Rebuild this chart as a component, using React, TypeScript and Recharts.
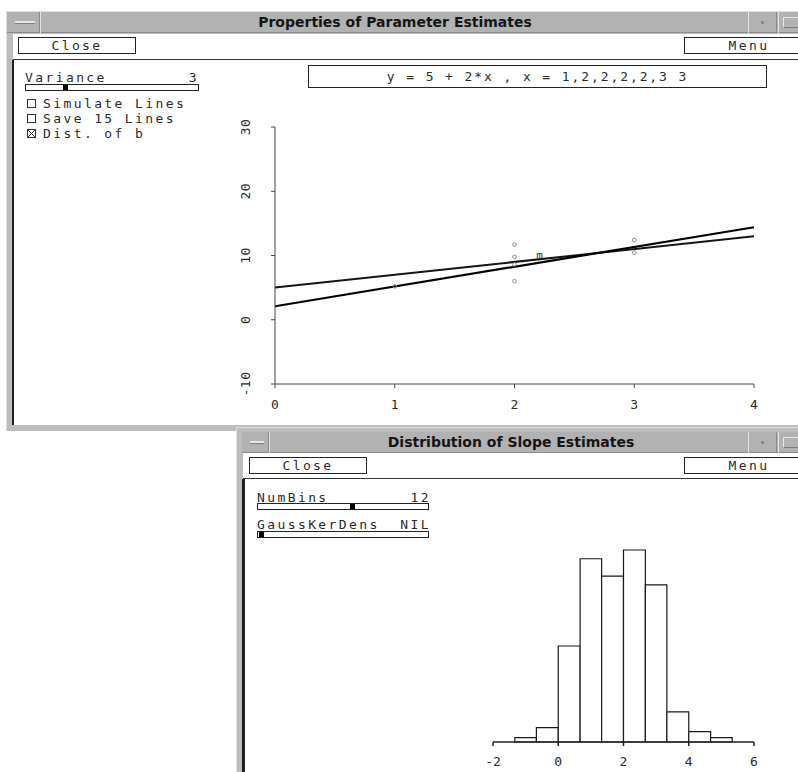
import React from "react";
import { ComposedChart, Line, Scatter, XAxis, YAxis, ReferenceArea } from "recharts";

// top window: simulated sample and two lines
const lineX = [0, 4];
const trueLineY = [5, 13];
const fitLineY = [2.1, 14.4];

const pointX = [1, 2, 2, 2, 2, 3, 3];
const pointY = [5.2, 11.7, 9.8, 6.0, 8.6, 12.4, 10.45];

const markX = [2.21];
const markY = [10];

const topXTicks = [0, 1, 2, 3, 4];
const topYTicks = [-10, 0, 10, 20, 30];

// bottom window: histogram of slope estimates
const binEdges = [-1.33, -0.67, 0, 0.67, 1.33, 2, 2.67, 3.33, 4, 4.67, 5.33];
const binCounts = [1, 3.3, 22, 42, 38, 44, 36, 6.9, 2.4, 1];
const histXTicks = [-2, 0, 2, 4, 6];

const trueLine = lineX.map((x, i) => ({ x, y: trueLineY[i] }));
const fitLine = lineX.map((x, i) => ({ x, y: fitLineY[i] }));
const points = pointX.map((x, i) => ({ x, y: pointY[i] }));
const marks = markX.map((x, i) => ({ x, y: markY[i] }));
const bins = binCounts.map((count, i) => ({ lo: binEdges[i], hi: binEdges[i + 1], x: (binEdges[i] + binEdges[i + 1]) / 2, count }));

const mono = "'DejaVu Sans Mono', monospace";
const sans = "'DejaVu Sans', sans-serif";
const ink = "#2b2b2b";
const frame = "#bdbdbd";
const titleGray = "#b2b2b2";

function abs(left: number, top: number, width: number, height: number, extra: React.CSSProperties = {}): React.CSSProperties {
  return { position: "absolute", left, top, width, height, boxSizing: "border-box", ...extra };
}

function MonoText({ left, top, children, align }: { left: number; top: number; children: React.ReactNode; align?: "right" }) {
  return (
    <div
      style={{
        position: "absolute",
        left: align === "right" ? undefined : left,
        right: align === "right" ? 798 - left : undefined,
        top,
        fontFamily: mono,
        fontSize: 13,
        letterSpacing: 2.4,
        color: ink,
        lineHeight: "15px",
        whiteSpace: "pre"
      }}
    >
      {children}
    </div>
  );
}

function Button({ left, top, width, label }: { left: number; top: number; width: number; label: string }) {
  return (
    <div
      style={abs(left, top, width, 17, {
        border: "1px solid #222",
        background: "#fff",
        fontFamily: mono,
        fontSize: 13,
        letterSpacing: 2.4,
        color: ink,
        textAlign: "center",
        lineHeight: "15px"
      })}
    >
      {label}
    </div>
  );
}

function Slider({ left, top, width, thumb }: { left: number; top: number; width: number; thumb: number }) {
  return (
    <div style={abs(left, top, width, 7, { border: "1px solid #222", background: "#fff" })}>
      <div style={abs(thumb, 0, 5, 5, { background: "#000" })} />
    </div>
  );
}

function Check({ left, top, label, checked }: { left: number; top: number; label: string; checked?: boolean }) {
  return (
    <>
      <div style={abs(left, top, 9, 9, { border: "1px solid #333", background: "#fff", overflow: "hidden" })}>
        {checked && (
          <svg width={7} height={7} style={{ display: "block" }}>
            <line x1={0} y1={0} x2={7} y2={7} stroke="#333" />
            <line x1={7} y1={0} x2={0} y2={7} stroke="#333" />
          </svg>
        )}
      </div>
      <MonoText left={left + 16} top={top - 3}>
        {label}
      </MonoText>
    </>
  );
}

function TitleBar({ left, top, width, title, menuWidth, center }: { left: number; top: number; width: number; title: string; menuWidth: number; center: number }) {
  return (
    <>
      <div style={abs(left, top, width, 21, { background: titleGray, borderBottom: "1px solid #8a8a8a" })} />
      <div style={abs(left, top, menuWidth, 21, { borderRight: "1px solid #e4e4e4", boxShadow: "inset -1px 0 0 #8a8a8a" })}>
        <div style={abs(8, 9, menuWidth - 14, 3, { background: "#e6e6e6", borderBottom: "1px solid #808080" })} />
      </div>
      <div
        style={{
          position: "absolute",
          left: center - 200,
          width: 400,
          top: top + 2,
          textAlign: "center",
          fontFamily: sans,
          fontWeight: "bold",
          fontSize: 14,
          color: "#151515",
          lineHeight: "17px"
        }}
      >
        {title}
      </div>
      <div style={abs(748, top, 29, 21, { borderLeft: "1px solid #e4e4e4", borderRight: "1px solid #8a8a8a" })}>
        <div style={abs(12, 9, 3, 3, { background: "#8a8a8a" })} />
      </div>
      <div style={abs(778, top, 30, 21, { borderLeft: "1px solid #e4e4e4" })}>
        <div style={abs(4, 5, 22, 11, { border: "1px solid #7a7a7a", borderTopColor: "#e8e8e8", borderLeftColor: "#e8e8e8" })} />
      </div>
    </>
  );
}

function YTick(props: any) {
  const { x, y, payload } = props;
  const cx = x - 24;
  return (
    <text
      x={cx}
      y={y}
      transform={`rotate(-90 ${cx} ${y})`}
      textAnchor="middle"
      dominantBaseline="central"
      fontFamily={mono}
      fontSize={13}
      letterSpacing={0.5}
      fill={ink}
    >
      {payload.value}
    </text>
  );
}

function XTick(props: any) {
  const { x, y, payload, offset } = props;
  return (
    <text x={x} y={y + offset} textAnchor="middle" dominantBaseline="central" fontFamily={mono} fontSize={13} fill={ink}>
      {payload.value}
    </text>
  );
}

function ringShape(props: any) {
  return <circle cx={props.cx} cy={props.cy} r={1.8} fill="none" stroke="#8c8c8c" strokeWidth={1} />;
}

function markShape(props: any) {
  return (
    <text x={props.cx} y={props.cy} textAnchor="middle" dominantBaseline="central" fontFamily={mono} fontSize={11} style={{ fill: "#333" }}>
      m
    </text>
  );
}

function LinesChart() {
  return (
    <ComposedChart width={560} height={320} margin={{ top: 17, right: 26, bottom: 16, left: 25 }}>
      <XAxis
        type="number"
        dataKey="x"
        domain={[0, 4]}
        ticks={topXTicks}
        height={30}
        tickSize={4}
        stroke="#444"
        tick={(p: any) => <XTick {...p} offset={14} />}
        allowDataOverflow
      />
      <YAxis
        type="number"
        dataKey="y"
        domain={[-10, 30]}
        ticks={topYTicks}
        width={30}
        tickSize={4}
        stroke="#444"
        tick={YTick}
        allowDataOverflow
      />
      <Line data={trueLine} dataKey="y" stroke="#151515" strokeWidth={2} dot={false} isAnimationActive={false} />
      <Line data={fitLine} dataKey="y" stroke="#000" strokeWidth={2.2} dot={false} isAnimationActive={false} />
      <Scatter data={points} dataKey="y" shape={ringShape} isAnimationActive={false} />
      <Scatter data={marks} dataKey="y" shape={markShape} isAnimationActive={false} />
    </ComposedChart>
  );
}

function HistChart() {
  return (
    <ComposedChart data={bins} width={310} height={242} margin={{ top: 20, right: 26, bottom: 0, left: 23 }}>
      <XAxis
        type="number"
        dataKey="x"
        domain={[-2, 6]}
        ticks={histXTicks}
        height={30}
        tickSize={4}
        stroke="#222"
        strokeWidth={1.5}
        tick={(p: any) => <XTick {...p} offset={13} />}
        allowDataOverflow
      />
      <YAxis type="number" dataKey="count" domain={[0, 44]} hide allowDataOverflow />
      <Line dataKey="count" stroke="none" dot={false} isAnimationActive={false} />
      {bins.map((b) => (
        <ReferenceArea
          key={b.lo}
          x1={b.lo}
          x2={b.hi}
          y1={0}
          y2={b.count}
          fill="#fff"
          fillOpacity={1}
          stroke="#1a1a1a"
          strokeWidth={1.2}
          ifOverflow="visible"
        />
      ))}
    </ComposedChart>
  );
}

export default function App() {
  return (
    <div style={abs(0, 0, 798, 772, { background: "#fff", overflow: "hidden" })}>
      {/* top window */}
      <div style={abs(6, 11, 810, 420, { background: frame, borderTop: "1px solid #dedede", borderLeft: "1px solid #dedede" })} />
      <TitleBar left={7} top={12} width={800} title="Properties of Parameter Estimates" menuWidth={34} center={395} />
      <div style={abs(13, 34, 800, 391, { background: "#fff" })} />
      <div style={abs(12, 60, 2, 365, { background: "#1e1e1e" })} />
      <div style={abs(13, 59, 800, 1, { background: "#333" })} />
      <Button left={18} top={37} width={118} label="Close" />
      <Button left={684} top={37} width={130} label="Menu" />

      <MonoText left={25} top={70}>Variance</MonoText>
      <MonoText left={199} top={70} align="right">3</MonoText>
      <Slider left={25} top={84} width={174} thumb={37} />
      <Check left={27} top={99} label="Simulate Lines" />
      <Check left={27} top={114} label="Save 15 Lines" />
      <Check left={27} top={129} label="Dist. of b" checked />

      <div
        style={abs(308, 65, 459, 23, {
          border: "1px solid #222",
          fontFamily: mono,
          fontSize: 13,
          letterSpacing: 1.9,
          color: ink,
          textAlign: "center",
          lineHeight: "21px",
          whiteSpace: "pre"
        })}
      >
        {"y = 5 + 2*x , x = 1,2,2,2,2,3 3"}
      </div>

      <div style={{ position: "absolute", left: 220, top: 110 }}>
        <LinesChart />
      </div>

      {/* bottom window */}
      <div style={abs(236, 427, 580, 360, { background: frame, borderTop: "1px solid #dedede", borderLeft: "1px solid #dedede" })} />
      <TitleBar left={242} top={432} width={570} title="Distribution of Slope Estimates" menuWidth={28} center={511} />
      <div style={abs(243, 453, 570, 330, { background: "#fff" })} />
      <div style={abs(242, 479, 3, 300, { background: "#1e1e1e" })} />
      <div style={abs(243, 478, 570, 1, { background: "#333" })} />
      <Button left={249} top={457} width={118} label="Close" />
      <Button left={684} top={457} width={130} label="Menu" />

      <MonoText left={257} top={490}>NumBins</MonoText>
      <MonoText left={431} top={490} align="right">12</MonoText>
      <Slider left={257} top={503} width={172} thumb={92} />
      <MonoText left={257} top={517}>GaussKerDens</MonoText>
      <MonoText left={431} top={517} align="right">NIL</MonoText>
      <Slider left={257} top={531} width={172} thumb={1} />

      <div style={{ position: "absolute", left: 470, top: 530 }}>
        <HistChart />
      </div>
    </div>
  );
}
